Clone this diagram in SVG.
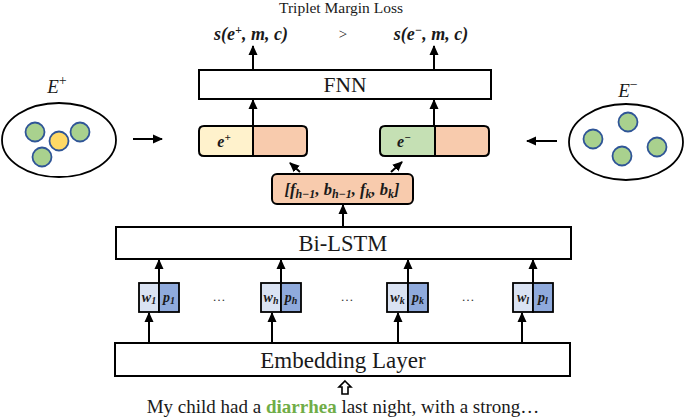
<svg xmlns="http://www.w3.org/2000/svg" width="685" height="420" viewBox="0 0 685 420">
<defs>
<marker id="ah" markerUnits="userSpaceOnUse" markerWidth="10" markerHeight="10" refX="9" refY="5" orient="auto">
<path d="M0,0.5 L10,5 L0,9.5 Z" fill="#000"/>
</marker>
<style>
.box{fill:#fff;stroke:#000;stroke-width:2}
.lbl{font-family:"Liberation Serif",serif;fill:#1a1a1a;text-anchor:middle}
.math{font-family:"Liberation Serif",serif;font-weight:bold;font-style:italic;fill:#1a1a1a;text-anchor:middle}
.conn{stroke:#000;stroke-width:2;fill:none;marker-end:url(#ah)}
.pill{stroke:#000;stroke-width:2}
.ell{fill:#fff;stroke:#000;stroke-width:1.8}
.cg{fill:#a9d18e;stroke:#2f5597;stroke-width:1.8}
.cy{fill:#ffd966;stroke:#2f5597;stroke-width:1.8}
.wb{fill:#dae3f3;stroke:#000;stroke-width:1.8}
.pb{fill:#8faadc;stroke:#000;stroke-width:1.8}
.dot{font-family:"Liberation Serif",serif;font-size:13px;fill:#333;text-anchor:middle}
</style>
</defs>
<rect width="685" height="420" fill="#fff"/>

<text class="lbl" x="341" y="13" font-size="15.5">Triplet Margin Loss</text>
<text class="math" x="251" y="40" font-size="18">s(e<tspan dy="-6" font-size="12">+</tspan><tspan dy="6">, m, c)</tspan></text>
<text class="lbl" x="343" y="39" font-size="15">&gt;</text>
<text class="math" x="431" y="40" font-size="18">s(e<tspan dy="-6" font-size="12">−</tspan><tspan dy="6">, m, c)</tspan></text>

<g id="fnn">
<rect class="box" x="199" y="70" width="292" height="29"/>
<text class="lbl" x="345" y="92" font-size="21.5">FNN</text>
</g>

<g id="epos-set">
<text x="57" y="93" font-family="Liberation Serif,serif" font-style="italic" font-size="19" text-anchor="middle" fill="#1a1a1a">E<tspan dy="-8" font-size="14" font-style="normal">+</tspan></text>
<ellipse class="ell" cx="59" cy="140" rx="57" ry="37"/>
<circle class="cg" cx="35" cy="132" r="9.5"/>
<circle class="cy" cx="59" cy="141" r="9.5"/>
<circle class="cg" cx="80" cy="132" r="9.5"/>
<circle class="cg" cx="42" cy="157" r="9.5"/>
</g>

<g id="eneg-set">
<text x="628" y="97" font-family="Liberation Serif,serif" font-style="italic" font-size="19" text-anchor="middle" fill="#1a1a1a">E<tspan dy="-8" font-size="14" font-style="normal">−</tspan></text>
<ellipse class="ell" cx="626" cy="142" rx="57" ry="38"/>
<circle class="cg" cx="593" cy="139" r="9.5"/>
<circle class="cg" cx="628" cy="122" r="9.5"/>
<circle class="cg" cx="622" cy="156" r="9.5"/>
<circle class="cg" cx="657" cy="147" r="9.5"/>
</g>

<g id="epos-pair">
<path class="pill" fill="#fff2cc" d="M253,126 H204 Q199,126 199,131 V151 Q199,156 204,156 H253 Z"/>
<path class="pill" fill="#f8cbad" d="M253,126 H302 Q307,126 307,131 V151 Q307,156 302,156 H253 Z"/>
<text class="math" x="224" y="147" font-size="16">e<tspan dy="-6" font-size="11">+</tspan></text>
</g>

<g id="eneg-pair">
<path class="pill" fill="#c5e0b4" d="M435,126 H385 Q380,126 380,131 V151 Q380,156 385,156 H435 Z"/>
<path class="pill" fill="#f8cbad" d="M435,126 H484 Q489,126 489,131 V151 Q489,156 484,156 H435 Z"/>
<text class="math" x="404" y="147" font-size="16">e<tspan dy="-6" font-size="11">−</tspan></text>
</g>

<g id="concat">
<rect class="pill" fill="#f8cbad" x="272" y="174" width="141" height="30" rx="5"/>
<text class="math" x="342" y="195" font-size="16.5">[f<tspan dy="3" font-size="12">h−1</tspan><tspan dy="-3">, b</tspan><tspan dy="3" font-size="12">h−1</tspan><tspan dy="-3">, f</tspan><tspan dy="3" font-size="12">k</tspan><tspan dy="-3">, b</tspan><tspan dy="3" font-size="12">k</tspan><tspan dy="-3">]</tspan></text>
</g>

<g id="bilstm">
<rect class="box" x="116" y="227" width="455" height="32"/>
<text class="lbl" x="343" y="251" font-size="22.5">Bi-LSTM</text>
</g>

<g id="tok1">
<rect class="wb" x="139" y="283" width="20" height="29"/>
<rect class="pb" x="159" y="283" width="20" height="29"/>
<text class="math" x="149" y="302" font-size="14">w<tspan dy="2" font-size="10">1</tspan></text>
<text class="math" x="169" y="302" font-size="14">p<tspan dy="2" font-size="10">1</tspan></text>
</g>
<g id="tokh">
<rect class="wb" x="261" y="283" width="20" height="29"/>
<rect class="pb" x="281" y="283" width="20" height="29"/>
<text class="math" x="271" y="302" font-size="14">w<tspan dy="2" font-size="10">h</tspan></text>
<text class="math" x="291" y="302" font-size="14">p<tspan dy="2" font-size="10">h</tspan></text>
</g>
<g id="tokk">
<rect class="wb" x="387" y="283" width="21" height="29"/>
<rect class="pb" x="408" y="283" width="20" height="29"/>
<text class="math" x="397.5" y="302" font-size="14">w<tspan dy="2" font-size="10">k</tspan></text>
<text class="math" x="418" y="302" font-size="14">p<tspan dy="2" font-size="10">k</tspan></text>
</g>
<g id="tokl">
<rect class="wb" x="513" y="283" width="20" height="29"/>
<rect class="pb" x="533" y="283" width="20" height="29"/>
<text class="math" x="523" y="302" font-size="14">w<tspan dy="2" font-size="10">l</tspan></text>
<text class="math" x="543" y="302" font-size="14">p<tspan dy="2" font-size="10">l</tspan></text>
</g>
<g id="dots">
<text class="dot" x="219" y="301">…</text>
<text class="dot" x="347" y="301">…</text>
<text class="dot" x="468" y="301">…</text>
</g>

<g id="embedding">
<rect class="box" x="115" y="343" width="455" height="33"/>
<text class="lbl" x="343" y="368" font-size="23">Embedding Layer</text>
</g>

<g id="sentence">
<path d="M345,381 L351,387 L348,387 L348,394 L342,394 L342,387 L339,387 Z" fill="#fff" stroke="#000" stroke-width="1.6" stroke-linejoin="miter"/>
<text class="lbl" x="343" y="413" font-size="19">My child had a <tspan font-weight="bold" fill="#70ad47">diarrhea</tspan> last night, with a strong…</text>
</g>

<g id="connectors">
<line class="conn" x1="253" y1="70" x2="253" y2="46"/>
<line class="conn" x1="434" y1="70" x2="434" y2="46"/>
<line class="conn" x1="253" y1="126" x2="253" y2="100"/>
<line class="conn" x1="434" y1="126" x2="434" y2="100"/>
<line class="conn" x1="300" y1="172" x2="290" y2="163"/>
<line class="conn" x1="391" y1="172" x2="402" y2="162"/>
<line class="conn" x1="343" y1="227" x2="343" y2="205"/>
<line class="conn" x1="133" y1="139" x2="162" y2="139"/>
<line class="conn" x1="557" y1="141" x2="527" y2="141"/>
<line class="conn" x1="159" y1="283" x2="159" y2="260"/>
<line class="conn" x1="281" y1="283" x2="281" y2="260"/>
<line class="conn" x1="408" y1="283" x2="408" y2="260"/>
<line class="conn" x1="533" y1="283" x2="533" y2="260"/>
<line class="conn" x1="149" y1="343" x2="149" y2="313"/>
<line class="conn" x1="272" y1="343" x2="272" y2="313"/>
<line class="conn" x1="398" y1="343" x2="398" y2="313"/>
<line class="conn" x1="522" y1="343" x2="522" y2="313"/>
</g>
</svg>
